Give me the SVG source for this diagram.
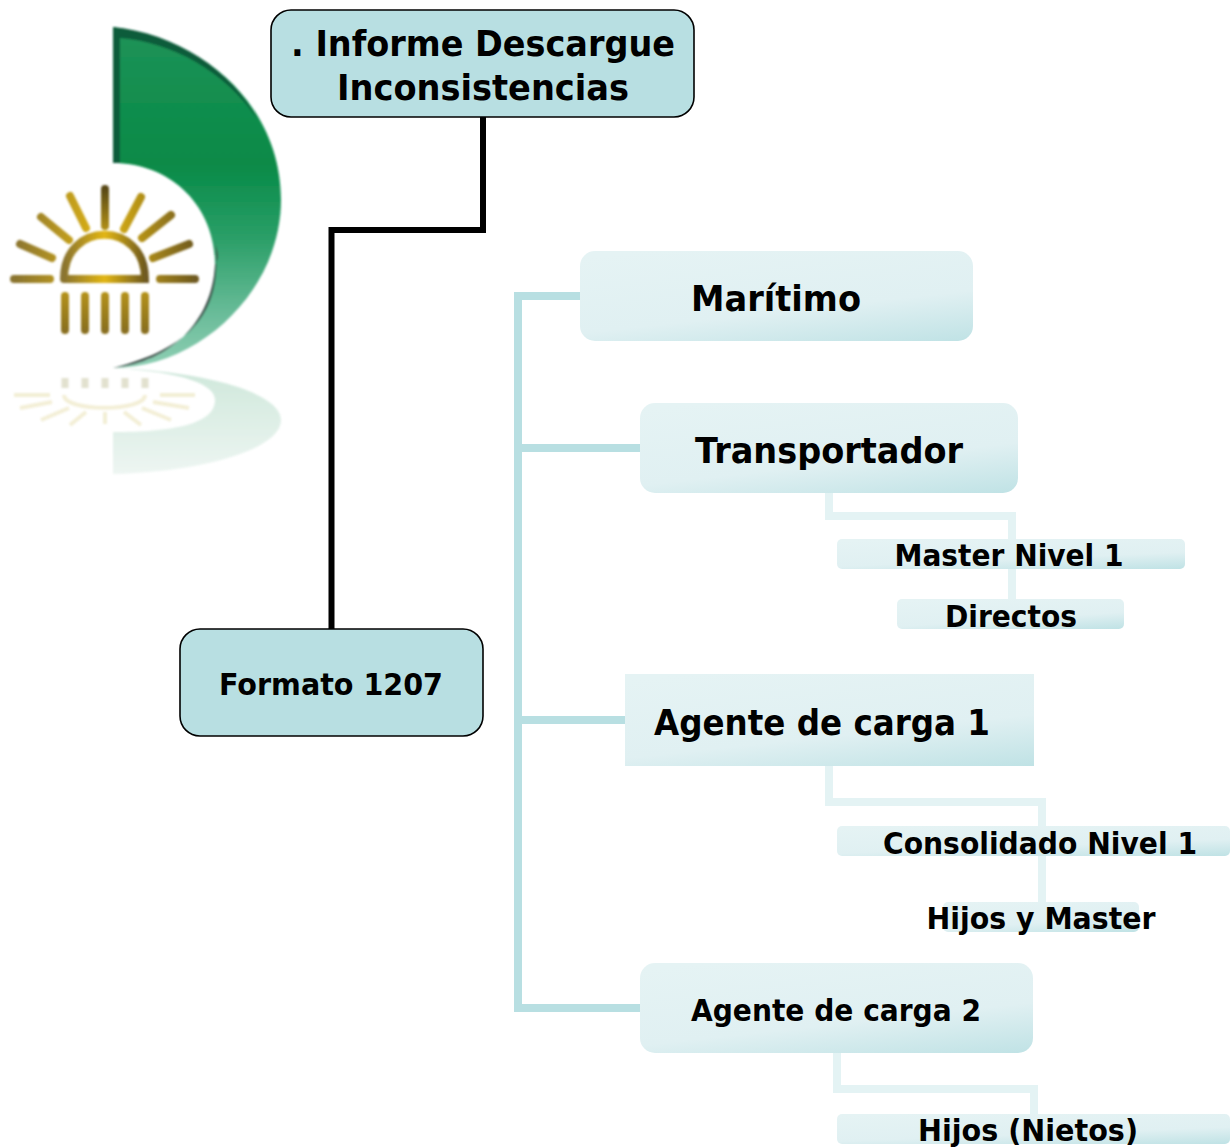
<svg xmlns="http://www.w3.org/2000/svg" width="1230" height="1147" viewBox="0 0 1230 1147">
<style>
text{font-family:"DejaVu Sans","Liberation Sans",sans-serif;font-weight:700;fill:#000;text-anchor:middle}
.dark{fill:#b8dfe2;stroke:#000;stroke-width:1.6}
.lt{fill:url(#g)}
.c1{fill:none;stroke:#b8dfe2;stroke-width:8}
.c2{fill:none;stroke:#e4f3f4;stroke-width:8}
.ray{fill:none;stroke:url(#gold);stroke-width:8;stroke-linecap:round}
</style>
<defs>
<linearGradient id="g" x1="0.15" y1="0" x2="0.75" y2="1.25"><stop offset="0" stop-color="#e5f3f4"/><stop offset="0.55" stop-color="#e0f0f2"/><stop offset="1" stop-color="#b8dfe2"/></linearGradient>
<linearGradient id="gr" x1="0" y1="0" x2="0" y2="1"><stop offset="0" stop-color="#1f9358"/><stop offset="0.4" stop-color="#078a47"/><stop offset="0.62" stop-color="#2b9f68"/><stop offset="0.85" stop-color="#6cbd9b"/><stop offset="1" stop-color="#8fcfb4"/></linearGradient>
<linearGradient id="gold" x1="0" y1="0" x2="1" y2="0"><stop offset="0" stop-color="#8a7430"/><stop offset="0.5" stop-color="#e2b612"/><stop offset="1" stop-color="#6f5a20"/></linearGradient>
<linearGradient id="gv" x1="0" y1="0" x2="0" y2="1"><stop offset="0" stop-color="#5a4a18"/><stop offset="0.45" stop-color="#e2b612"/><stop offset="1" stop-color="#8a7020"/></linearGradient>
<linearGradient id="rf" x1="0" y1="0" x2="0" y2="1"><stop offset="0" stop-color="#bfe0cf"/><stop offset="1" stop-color="#e8f3ee"/></linearGradient>
<filter id="b" x="-10%" y="-10%" width="120%" height="120%"><feGaussianBlur stdDeviation="1"/></filter>
</defs>
<g id="logo">
<g filter="url(#b)">
<path d="M113 27C210 40 281 110 281 200C281 290 200 368 113 368C170 362 215 320 215 265C215 205 170 163 113 163Z" fill="url(#gr)"/>
<path d="M113 27C175 33 232 70 258 120C225 70 170 42 120 38V163H113Z" fill="#0d5c3a"/>
<path d="M113 368C170 362 212 322 215 265C222 255 214 245 215 240C222 300 205 345 113 368Z" fill="#3d4f4a"/>
</g>
<g fill="none" stroke-width="8" stroke-linecap="round" filter="url(#b)">
<g stroke="url(#gold)">
<path d="M14 279H50M160 279H195M20 244L52 258M153 258L189 244M41 217L69 240M142 238L171 215M70 196L86 228M124 229L141 197"/>
<path d="M64 279C64 220 145 220 145 279H64"/>
</g>
<path d="M105 189V226M65 296V330M85 296V330M105 296V330M125 296V330M145 296V330" stroke="url(#gv)"/>
</g>
<g filter="url(#b)" opacity="0.75">
<path d="M113 474C200 472 281 450 281 420C281 395 215 372 113 368C185 372 215 385 215 400C215 425 170 432 113 432Z" fill="url(#rf)"/>
<path d="M14 395H50M160 395H195M20 408L52 402M153 402L189 408M41 420L69 408M142 408L171 420M70 425L86 412M124 412L141 425M105 412V424M64 395C64 412 145 412 145 395" fill="none" stroke="#efe9c8" stroke-width="4"/>
<path d="M65 378V388M85 378V388M105 378V388M125 378V388M145 378V388" stroke="#d9d8c0" stroke-width="7"/>
</g>
</g>
<g id="connectors">
<path d="M483 117V230H331.500V629" fill="none" stroke="#000" stroke-width="6"/>
<path class="c1" d="M580 296H518V1008H640M518 448H640M518 720H625"/>
<path class="c2" d="M829 493V516H1012V600"/>
<path class="c2" d="M829 766V802H1042V902"/>
<path class="c2" d="M837 1052V1089H1034V1114"/>
</g>
<g id="n1"><rect class="dark" x="271" y="10" width="423" height="107" rx="20"/><text x="483" y="56" font-size="36" textLength="384" lengthAdjust="spacingAndGlyphs">. Informe Descargue</text><text x="483" y="100" font-size="36" textLength="292" lengthAdjust="spacingAndGlyphs">Inconsistencias</text></g>
<g id="n2"><rect class="dark" x="180" y="629" width="303" height="107" rx="20"/><text x="331" y="695" font-size="30" textLength="224" lengthAdjust="spacingAndGlyphs">Formato 1207</text></g>
<g id="n3"><rect class="lt" x="580" y="251" width="393" height="90" rx="15"/><text x="776" y="311" font-size="36" textLength="170" lengthAdjust="spacingAndGlyphs">Marítimo</text></g>
<g id="n4"><rect class="lt" x="640" y="403" width="378" height="90" rx="15"/><text x="829" y="463" font-size="36" textLength="268" lengthAdjust="spacingAndGlyphs">Transportador</text></g>
<g id="n5"><rect class="lt" x="837" y="539" width="348" height="30" rx="5"/><text x="1009" y="566" font-size="30" textLength="229" lengthAdjust="spacingAndGlyphs">Master Nivel 1</text></g>
<g id="n6"><rect class="lt" x="897" y="599" width="227" height="30" rx="5"/><text x="1011" y="627" font-size="30" textLength="132" lengthAdjust="spacingAndGlyphs">Directos</text></g>
<g id="n7"><rect class="lt" x="625" y="674" width="409" height="92" rx="0"/><text x="822" y="735" font-size="36" textLength="336" lengthAdjust="spacingAndGlyphs">Agente de carga 1</text></g>
<g id="n8"><rect class="lt" x="837" y="826" width="393" height="30" rx="5"/><text x="1040" y="854" font-size="30" textLength="314" lengthAdjust="spacingAndGlyphs">Consolidado Nivel 1</text></g>
<g id="n9"><rect class="lt" x="943" y="902" width="196" height="30" rx="5"/><text x="1041" y="929" font-size="30" textLength="229" lengthAdjust="spacingAndGlyphs">Hijos y Master</text></g>
<g id="n10"><rect class="lt" x="640" y="963" width="393" height="90" rx="15"/><text x="836" y="1021" font-size="30" textLength="290" lengthAdjust="spacingAndGlyphs">Agente de carga 2</text></g>
<g id="n11"><rect class="lt" x="837" y="1114" width="393" height="30" rx="5"/><text x="1028" y="1141" font-size="30" textLength="220" lengthAdjust="spacingAndGlyphs">Hijos (Nietos)</text></g>
</svg>
